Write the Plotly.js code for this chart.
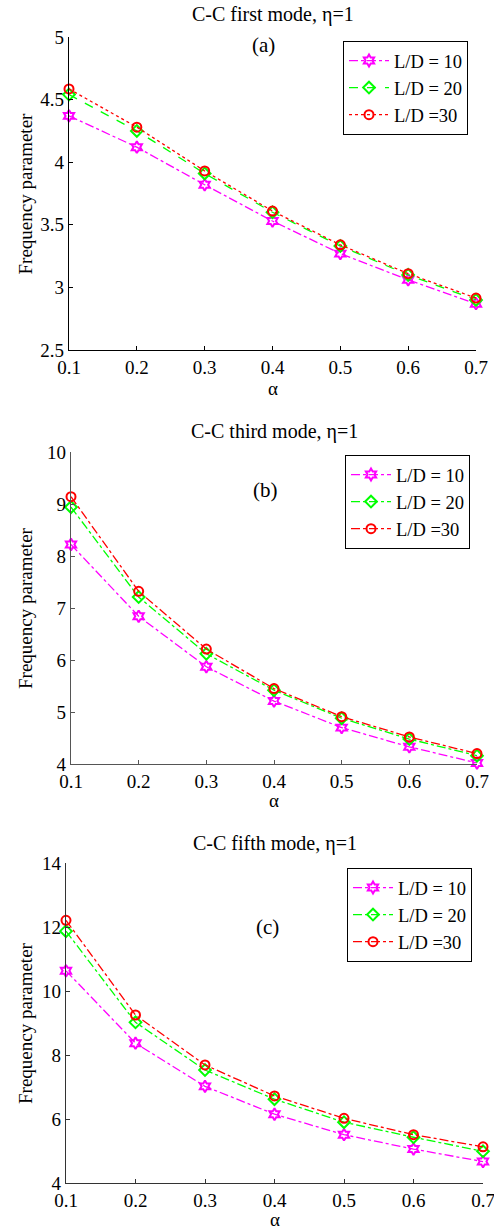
<!DOCTYPE html>
<html>
<head>
<meta charset="utf-8">
<script src="https://cdn.plot.ly/plotly-3.0.1.min.js"></script>
<style>html,body{margin:0;padding:0;background:#fff;overflow:hidden;}#chart{width:494px;height:1231px;}</style>
</head>
<body>
<div id="chart"></div>
<script>
// ---- data ----
const alpha = [0.1, 0.2, 0.3, 0.4, 0.5, 0.6, 0.7];
const seriesNames = ['L/D = 10', 'L/D = 20', 'L/D =30'];
const panelTitles = ['C-C first mode, η=1', 'C-C third mode, η=1', 'C-C fifth mode, η=1'];
const panelLabels = ['(a)', '(b)', '(c)'];
// first mode
const firstLD10 = [4.37, 4.12, 3.82, 3.53, 3.27, 3.06, 2.87];
const firstLD20 = [4.54, 4.25, 3.91, 3.60, 3.33, 3.10, 2.90];
const firstLD30 = [4.585, 4.28, 3.93, 3.61, 3.34, 3.11, 2.915];
// third mode
const thirdLD10 = [8.22, 6.84, 5.87, 5.21, 4.70, 4.33, 4.02];
const thirdLD20 = [8.94, 7.21, 6.12, 5.42, 4.88, 4.48, 4.16];
const thirdLD30 = [9.14, 7.32, 6.21, 5.45, 4.91, 4.52, 4.20];
// fifth mode
const fifthLD10 = [10.63, 8.37, 7.02, 6.15, 5.51, 5.06, 4.67];
const fifthLD20 = [11.87, 9.02, 7.53, 6.62, 5.90, 5.43, 4.99];
const fifthLD30 = [12.21, 9.25, 7.69, 6.72, 6.02, 5.51, 5.13];
const yTicks1 = [2.5, 3, 3.5, 4, 4.5, 5];
const yTicks2 = [4, 5, 6, 7, 8, 9, 10];
const yTicks3 = [4, 6, 8, 10, 12, 14];
const xTicks = [0.1, 0.2, 0.3, 0.4, 0.5, 0.6, 0.7];

// ---- layout helpers ----
const W = 494, H = 1231;
const px = x => x / W;
const py = y => 1 - y / H;
const FONT = 'Liberation Serif, Times New Roman, serif';

const panels = [
  {data: [firstLD10, firstLD20, firstLD30], dash: ['dashdot', 'dash', 'dot'], yr: [2.5, 5], yt: yTicks1,
   xl: 69, xr: 476, yt0: 37, yb: 350, axc: '#000', titleY: 15, lab: [263, 45], xtitleY: 388, xtAnchor: 'middle',
   leg: [343, 41]},
  {data: [thirdLD10, thirdLD20, thirdLD30], dash: ['dashdot', 'dashdot', 'dashdot'], yr: [4, 10], yt: yTicks2,
   xl: 71, xr: 477, yt0: 452, yb: 764, axc: '#555', titleY: 432, lab: [265, 490], xtitleY: 801, xtAnchor: 'middle',
   leg: [345, 455]},
  {data: [fifthLD10, fifthLD20, fifthLD30], dash: ['dashdot', 'dashdot', 'dashdot'], yr: [4, 14], yt: yTicks3,
   xl: 66, xr: 483, yt0: 863, yb: 1183, axc: '#333', titleY: 843, lab: [267, 927], xtitleY: 1231, xtAnchor: 'bottom',
   leg: [347, 868]}
];
const colors = ['#ff00ff', '#00ff00', '#ff0000'];
const symbols = ['hexagram-open', 'diamond-open', 'circle-open'];

const traces = [];
const layout = {
  width: W, height: H, margin: {l: 0, r: 0, t: 0, b: 0},
  paper_bgcolor: '#fff', plot_bgcolor: 'rgba(0,0,0,0)',
  font: {family: FONT, size: 19, color: '#000'},
  showlegend: true, annotations: []
};

panels.forEach((p, i) => {
  const sfx = i === 0 ? '' : String(i + 1);
  const legName = 'legend' + sfx;
  p.data.forEach((ys, s) => {
    traces.push({
      x: alpha, y: ys, type: 'scatter', mode: 'lines+markers', name: seriesNames[s],
      xaxis: 'x' + sfx, yaxis: 'y' + sfx, legend: legName, cliponaxis: false,
      line: {color: colors[s], width: 1.3, dash: p.dash[s]},
      marker: {symbol: symbols[s], size: 9, color: colors[s], line: {color: colors[s], width: 2}}
    });
  });
  const axBase = {showgrid: false, zeroline: false, showline: true, linewidth: 1.2, ticks: 'inside',
    ticklen: 4, tickcolor: p.axc, linecolor: p.axc, mirror: false,
    tickfont: {family: FONT, size: 19, color: '#000'}};
  layout['xaxis' + sfx] = Object.assign({}, axBase, {
    domain: [px(p.xl), px(p.xr)], range: [0.1, 0.7], tickvals: xTicks, ticktext: xTicks.map(v => v.toFixed(1)),
    anchor: 'y' + sfx, ticklabeloverflow: 'allow'
  });
  layout['yaxis' + sfx] = Object.assign({}, axBase, {
    domain: [py(p.yb), py(p.yt0)], range: p.yr, tickvals: p.yt, ticktext: p.yt.map(String),
    anchor: 'x' + sfx, ticklabeloverflow: 'allow'
  });
  layout[legName] = {
    x: px(p.leg[0]), y: py(p.leg[1]), xanchor: 'left', yanchor: 'top', xref: 'paper', yref: 'paper',
    bgcolor: '#fff', bordercolor: '#000', borderwidth: 1, itemwidth: 40,
    font: {family: FONT, size: 18.5, color: '#000'}, tracegroupgap: 0
  };
  const cx = (p.xl + p.xr) / 2;
  layout.annotations.push(
    {text: panelTitles[i], x: px(cx), y: py(p.titleY), xref: 'paper', yref: 'paper', showarrow: false,
     xanchor: 'center', yanchor: 'middle', font: {family: FONT, size: 20, color: '#000'}},
    {text: panelLabels[i], x: px(p.lab[0]), y: py(p.lab[1]), xref: 'paper', yref: 'paper', showarrow: false,
     xanchor: 'center', yanchor: 'middle', font: {family: FONT, size: 21, color: '#000'}},
    {text: 'α', x: px(cx), y: py(p.xtitleY), xref: 'paper', yref: 'paper', showarrow: false, borderpad: 0,
     xanchor: 'center', yanchor: p.xtAnchor, font: {family: FONT, size: 19, color: '#000'}},
    {text: 'Frequency parameter', x: px(25), y: py((p.yt0 + p.yb) / 2), xref: 'paper', yref: 'paper',
     showarrow: false, textangle: -90, xanchor: 'center', yanchor: 'middle',
     font: {family: FONT, size: 19, color: '#000'}}
  );
});

Plotly.newPlot('chart', traces, layout, {displayModeBar: false, staticPlot: true});
</script>
</body>
</html>
